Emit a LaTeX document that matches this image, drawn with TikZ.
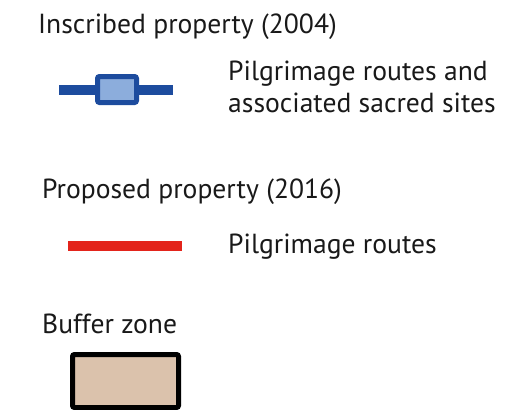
\documentclass[tikz,border=0pt]{standalone}
\usepackage{fontspec}
\setmainfont{PT Sans}
\usepackage{tikz}

\definecolor{routeblue}{HTML}{1D4C9E}
\definecolor{siteblue}{HTML}{8CADDC}
\definecolor{routered}{HTML}{E3241B}
\definecolor{bufferfill}{HTML}{DBC2AC}

\begin{document}
\begin{tikzpicture}[
        x=1pt, y=-1pt,
        label/.style={anchor=base west, inner sep=0pt, font=\fontsize{27.6}{33}\selectfont, text=black!90},
        route/.style={line width=10pt},
        site/.style={draw=routeblue, fill=siteblue, line width=5pt, rounded corners=2pt, minimum width=39pt, minimum height=26pt, inner sep=0pt},
        buffer/.style={draw=black, fill=bufferfill, line width=5pt, rounded corners=2pt, minimum width=106pt, minimum height=53pt, inner sep=0pt}]

    \useasboundingbox (0,0) rectangle (531,410);

    % Titres
    \node (inscribed) [label] at (38,33) {Inscribed property (2004)};
    \node (proposed) [label] at (42,198) {Proposed property (2016)};
    \node (bufzone) [label] at (42,333) {Buffer zone};

    % Bien inscrit
    \coordinate (blueL) at (59,89.5);
    \coordinate (blueR) at (173,89.5);
    \draw[route, routeblue] (blueL) -- (blueR);
    \node (site) [site] at (117,89.5) {};
    \node (inscr1) [label] at (228,80) {Pilgrimage routes and};
    \node (inscr2) [label] at (228,112) {associated sacred sites};

    % Bien propose
    \coordinate (redL) at (68,246);
    \coordinate (redR) at (182,246);
    \draw[route, routered] (redL) -- (redR);
    \node (prop1) [label] at (228,253) {Pilgrimage routes};

    % Zone tampon
    \node (buffer) [buffer] at (125.5,381) {};

\end{tikzpicture}
\end{document}
